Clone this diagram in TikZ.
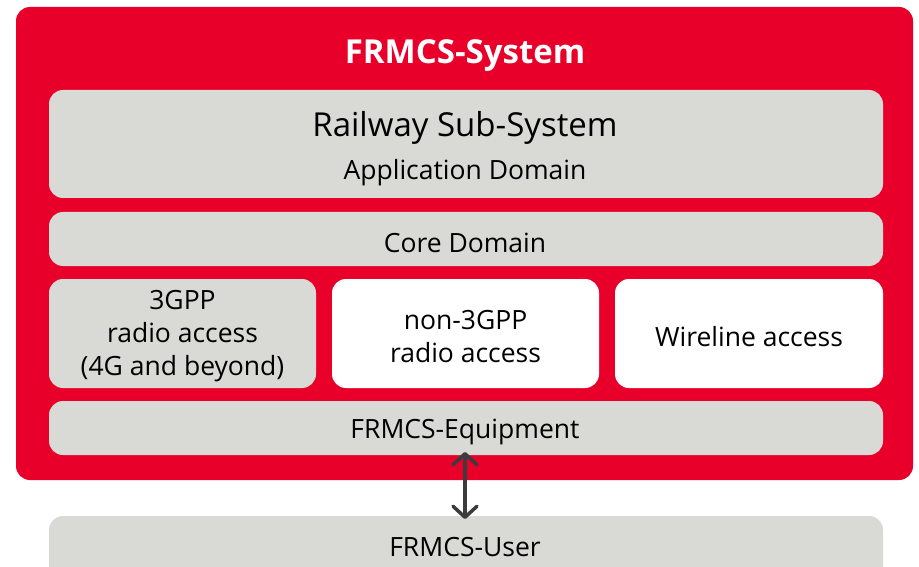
\documentclass[tikz,border=0pt]{standalone}
\usepackage{fontspec}
\setmainfont{Open Sans}
\usetikzlibrary{arrows.meta}
\definecolor{frred}{HTML}{E8002A}
\definecolor{frgray}{HTML}{D9D9D5}
\definecolor{frarrow}{HTML}{3C3C3C}
\tikzset{
  graybox/.style={fill=frgray, draw=none, rounded corners=14pt},
  whitebox/.style={fill=white, draw=none, rounded corners=14pt},
  lbl/.style={font=\fontsize{26.5}{33}\selectfont, text=black, align=center, inner sep=0pt},
}
\begin{document}
\begin{tikzpicture}[x=1pt,y=-1pt]
\useasboundingbox (0,0) rectangle (919,567);
\clip (0,0) rectangle (919,567);
% outer red
\fill[frred, rounded corners=14pt] (16,7) rectangle (913,480);
\node[font=\bfseries\fontsize{33}{38}\selectfont, text=white, inner sep=0pt] (title) at (465,56) {FRMCS-System};
% railway sub-system
\path[graybox] (49,90) rectangle (883,198);
\node[lbl, font=\fontsize{33}{38}\selectfont] (rail) at (465,128) {Railway Sub-System};
\node[lbl] (app) at (465,173) {Application Domain};
% core
\path[graybox] (49,212) rectangle (883,266);
\node[lbl] (core) at (465,243) {Core Domain};
% access row
\path[graybox] (49,279) rectangle (316,388);
\node[lbl] (g3) at (182.5,336) {3GPP\\radio access\\(4G and beyond)};
\path[whitebox] (332,279) rectangle (599,388);
\node[lbl] (n3) at (465.5,337) {non-3GPP\\radio access};
\path[whitebox] (615,279) rectangle (883,388);
\node[lbl] (wire) at (749,337) {Wireline access};
% equipment
\path[graybox] (49,401) rectangle (883,455);
\node[lbl] (equip) at (465,432) {FRMCS-Equipment};
\coordinate (eqb) at (465,452);
% user
\path[graybox] (49,516) rectangle (883,600);
\node[lbl] (user) at (465,547) {FRMCS-User};
\coordinate (ust) at (465,519);
% arrow
\draw[frarrow, line width=3.5pt, line cap=round,
  {Straight Barb[length=11pt,width=24pt,line cap=round,line join=round]}-{Straight Barb[length=11pt,width=24pt,line cap=round,line join=round]}]
  (eqb) -- (ust);
\end{tikzpicture}
\end{document}
